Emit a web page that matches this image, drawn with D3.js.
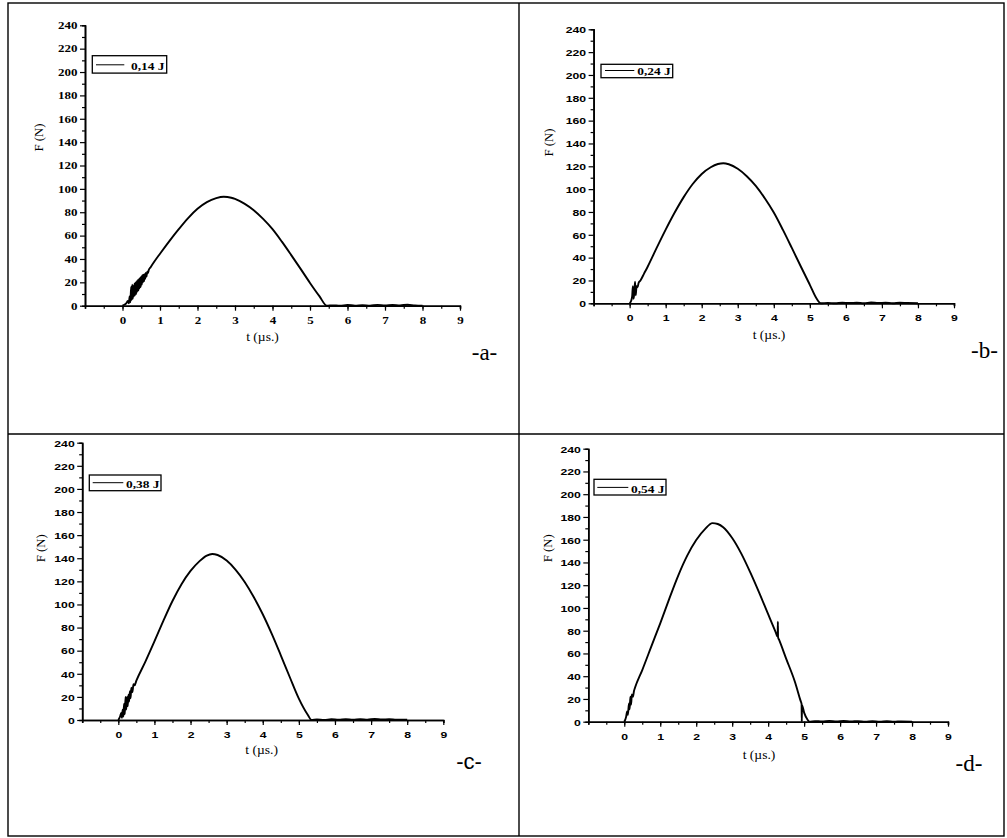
<!DOCTYPE html>
<html>
<head>
<meta charset="utf-8">
<script src="https://cdn.jsdelivr.net/npm/d3@7"></script>
<style>
  body { margin: 0; background: #fff; }
  svg { display: block; }
</style>
</head>
<body>
<svg id="fig" width="1007" height="838"></svg>
<script>
// ---- values -------------------------------------------------------------
const timeMajorTicks = [0, 1, 2, 3, 4, 5, 6, 7, 8, 9];
const timeMinorTicks = [-1, -0.5, 0, 0.5, 1, 1.5, 2, 2.5, 3, 3.5, 4, 4.5, 5, 5.5, 6, 6.5, 7, 7.5, 8, 8.5, 9];
const forceMajorTicks = [0, 20, 40, 60, 80, 100, 120, 140, 160, 180, 200, 220, 240];
const forceMinorTicks = [10, 30, 50, 70, 90, 110, 130, 150, 170, 190, 210, 230];
const timeDomain = [-1, 9];
const forceDomain = [0, 240];

const energyLabels = ["0,14 J", "0,24 J", "0,38 J", "0,54 J"];
const panelTags = ["-a-", "-b-", "-c-", "-d-"];
const timeTitle = "t (\u00b5s.)";
const forceTitle = "F (N)";

// impact force history, [t (µs), F (N)]
const force014 = [
  [0, 0], [0.06, 1], [0.1, 2], [0.14, 4], [0.17, 2], [0.19, 8], [0.21, 3], [0.23, 16],
  [0.245, 5], [0.26, 18], [0.275, 6], [0.29, 17], [0.305, 8], [0.32, 19], [0.335, 9],
  [0.35, 20], [0.365, 10], [0.38, 21], [0.395, 12], [0.41, 22], [0.425, 13], [0.44, 23],
  [0.455, 15], [0.47, 24], [0.485, 16], [0.5, 25], [0.515, 18], [0.53, 26], [0.545, 20],
  [0.56, 26.5], [0.575, 21], [0.59, 27], [0.605, 23], [0.62, 28], [0.64, 25], [0.66, 29],
  [0.68, 28], [0.7, 30.5], [0.75, 33], [0.85, 37.8], [1.0, 44.5], [1.25, 55.3], [1.5, 65.5],
  [1.75, 75], [2.0, 82.9], [2.25, 88.6], [2.5, 92], [2.7, 93.2], [2.9, 92.4], [3.0, 91.4],
  [3.25, 87.4], [3.5, 81.7], [3.75, 74.3], [4.0, 65.5], [4.25, 54.8], [4.5, 43.3], [4.75, 31.5],
  [5.0, 19.5], [5.25, 8.2], [5.45, 0], [5.6, 0.3], [5.8, 0], [6.0, 0.6], [6.2, 0.1], [6.4, 0.5],
  [6.6, 0], [6.8, 0.7], [7.0, 0.2], [7.2, 0.6], [7.4, 0.3], [7.6, 0.8], [7.8, 0.2], [8.0, 0]
];
const force024 = [
  [0, 0], [0.04, 2], [0.07, 6], [0.09, 15], [0.11, 4], [0.13, 10], [0.15, 19], [0.17, 7],
  [0.19, 15], [0.22, 14], [0.25, 18], [0.3, 20], [0.4, 26], [0.5, 32], [0.75, 48.5],
  [1.0, 64.5], [1.25, 79.5], [1.5, 93], [1.75, 104.5], [2.0, 113.3], [2.25, 119.2],
  [2.45, 122], [2.6, 122.7], [2.75, 121.8], [3.0, 117.8], [3.25, 111.3], [3.5, 102.8],
  [3.75, 92], [4.0, 79.5], [4.25, 64.5], [4.5, 48.5], [4.75, 32.2], [5.0, 16.2], [5.2, 3.5],
  [5.3, 0], [5.5, 0.4], [5.7, 0], [5.9, 0.6], [6.1, 0.2], [6.3, 0.5], [6.5, 0.1], [6.7, 0.7],
  [6.9, 0.2], [7.1, 0.6], [7.3, 0.1], [7.5, 0.5], [7.7, 0.2], [8.0, 0]
];
const force038 = [
  [0, 0], [0.05, 3], [0.08, 6], [0.1, 2], [0.12, 9], [0.14, 3], [0.16, 14], [0.18, 5],
  [0.2, 20], [0.22, 9], [0.24, 20], [0.26, 12], [0.28, 22], [0.3, 16], [0.32, 25],
  [0.34, 19], [0.36, 28], [0.39, 24], [0.42, 31], [0.45, 30], [0.5, 34], [0.75, 50.5],
  [1.0, 68], [1.25, 86], [1.5, 103], [1.75, 117.5], [2.0, 129], [2.25, 137.5], [2.45, 142.3],
  [2.6, 143.7], [2.75, 142.8], [3.0, 138], [3.25, 130], [3.5, 119.5], [3.75, 106.5], [4.0, 91.5],
  [4.25, 74.5], [4.5, 56], [4.75, 37], [5.0, 18.5], [5.25, 4.3], [5.35, 0], [5.5, 0.5],
  [5.7, 0.1], [5.9, 0.6], [6.1, 0.2], [6.3, 0.7], [6.5, 0.3], [6.7, 0.8], [6.9, 0.3],
  [7.1, 0.9], [7.3, 0.4], [7.5, 0.7], [7.7, 0.3], [8.0, 0.2]
];
const force054 = [
  [0, 0], [0.05, 4], [0.08, 9], [0.1, 6], [0.13, 16], [0.15, 11], [0.17, 22], [0.19, 15],
  [0.21, 24], [0.24, 22], [0.27, 27], [0.3, 30], [0.5, 45.4], [0.75, 66], [1.0, 86.5],
  [1.25, 108], [1.5, 128.5], [1.75, 146], [2.0, 159.7], [2.25, 169.5], [2.45, 174.6],
  [2.6, 173.8], [2.75, 171], [3.0, 161.5], [3.25, 148], [3.5, 131.5], [3.75, 113.5], [4.0, 94.5],
  [4.2, 79.5], [4.265, 74.8], [4.27, 88], [4.275, 74.2], [4.3, 72.3], [4.5, 55.5], [4.75, 34.5],
  [4.9, 18.5], [4.93, 15.5], [4.935, 0], [4.94, 14.5], [5.0, 8], [5.1, 1.5], [5.15, 0],
  [5.3, 0.5], [5.5, 0.2], [5.7, 0.7], [5.9, 0.3], [6.1, 0.6], [6.3, 0.2], [6.5, 0.5],
  [6.7, 0.1], [6.9, 0.4], [7.1, 0.1], [7.3, 0.4], [7.5, 0], [7.7, 0.3], [8.0, 0]
];

// ---- layout -------------------------------------------------------------
const SERIF = "'Liberation Serif','Times New Roman',serif";
const SANS = "'Liberation Sans',Arial,sans-serif";

const panels = [
  { data: force014, label: energyLabels[0], tag: panelTags[0],
    xr: [85, 460], yr: [305.7, 25.3], tickFont: SERIF, tickSize: 10, tagFont: SERIF, tagSize: 23,
    box: [92.3, 55.7, 74.4, 17.4], line: [96, 124.3, 64.8], text: [131, 70.4],
    yTitle: [42.5, 137.5], xTitle: [262.5, 341], tagPos: [484.5, 359.5] },
  { data: force024, label: energyLabels[1], tag: panelTags[1],
    xr: [593.6, 954], yr: [303.3, 29.3], tickFont: SANS, tickSize: 9.4, tagFont: SERIF, tagSize: 23,
    box: [601, 64.3, 71.7, 13.4], line: [605, 634.3, 70.5], text: [637.3, 75.4],
    yTitle: [552.5, 142.5], xTitle: [769, 339], tagPos: [984.5, 358] },
  { data: force038, label: energyLabels[2], tag: panelTags[2],
    xr: [82.2, 443.3], yr: [720, 442.7], tickFont: SANS, tickSize: 9.4, tagFont: SANS, tagSize: 22,
    box: [89.3, 475, 71.7, 15.7], line: [92.7, 123.3, 482.7], text: [126, 488.4],
    yTitle: [44.5, 548.3], xTitle: [261.7, 754], tagPos: [469, 769] },
  { data: force054, label: energyLabels[3], tag: panelTags[3],
    xr: [588.3, 948], yr: [721.7, 448.7], tickFont: SANS, tickSize: 9.4, tagFont: SERIF, tagSize: 23,
    box: [594, 479.3, 72, 15.7], line: [597.3, 628.3, 487.4], text: [631, 492.6],
    yTitle: [551.5, 548.3], xTitle: [759, 759], tagPos: [969, 771] }
];

const svg = d3.select("#fig");

// page frame with the 2x2 grid of cells
const frame = svg.append("g").attr("fill", "none").attr("stroke", "#000").attr("stroke-width", 1.4);
frame.append("rect").attr("x", 8).attr("y", 3).attr("width", 996).attr("height", 833);
frame.append("line").attr("x1", 519).attr("x2", 519).attr("y1", 3).attr("y2", 836);
frame.append("line").attr("x1", 8).attr("x2", 1004).attr("y1", 434).attr("y2", 434);

panels.forEach(p => {
  const x = d3.scaleLinear().domain(timeDomain).range(p.xr);
  const y = d3.scaleLinear().domain(forceDomain).range(p.yr);
  const g = svg.append("g");

  // minor ticks
  g.append("g").attr("transform", `translate(0,${p.yr[0]})`)
    .call(d3.axisBottom(x).tickValues(timeMinorTicks).tickSize(3).tickFormat(""));
  g.append("g").attr("transform", `translate(${p.xr[0]},0)`)
    .call(d3.axisLeft(y).tickValues(forceMinorTicks).tickSize(3).tickFormat(""));

  // major ticks with labels
  const xAx = g.append("g").attr("transform", `translate(0,${p.yr[0]})`)
    .call(d3.axisBottom(x).tickValues(timeMajorTicks).tickSize(5).tickSizeOuter(0).tickFormat(d3.format("d")));
  const yAx = g.append("g").attr("transform", `translate(${p.xr[0]},0)`)
    .call(d3.axisLeft(y).tickValues(forceMajorTicks).tickSize(5).tickSizeOuter(0).tickFormat(d3.format("d")));

  g.selectAll(".domain").attr("stroke-width", 1.6);
  g.selectAll(".tick line").attr("stroke-width", 1.2);

  xAx.selectAll(".tick text")
    .attr("x", null).attr("y", null).attr("dy", null)
    .attr("transform", "translate(0,17.8) scale(1.3,1)")
    .attr("font-family", p.tickFont).attr("font-weight", "bold").attr("font-size", p.tickSize);
  yAx.selectAll(".tick text")
    .attr("x", null).attr("y", null).attr("dy", null)
    .attr("transform", "translate(-7.5,3.3) scale(1.3,1)")
    .attr("font-family", p.tickFont).attr("font-weight", "bold").attr("font-size", p.tickSize);

  // force curve
  const line = d3.line()
    .x(d => x(d[0])).y(d => y(d[1]))
    .curve(d3.curveMonotoneX);
  g.append("path").datum(p.data)
    .attr("fill", "none").attr("stroke", "#000").attr("stroke-width", 1.9)
    .attr("stroke-linejoin", "round").attr("d", line);

  // axis titles
  g.append("text")
    .attr("transform", `translate(${p.xTitle[0]},${p.xTitle[1]}) scale(1.13,1)`)
    .attr("text-anchor", "middle").attr("font-family", SERIF).attr("font-size", 12)
    .text(timeTitle);
  g.append("text")
    .attr("transform", `translate(${p.yTitle[0]},${p.yTitle[1]}) rotate(-90)`)
    .attr("text-anchor", "middle").attr("font-family", SERIF).attr("font-size", 12.8)
    .text(forceTitle);

  // legend
  g.append("rect")
    .attr("x", p.box[0]).attr("y", p.box[1]).attr("width", p.box[2]).attr("height", p.box[3])
    .attr("fill", "#fff").attr("stroke", "#000").attr("stroke-width", 1.3);
  g.append("line")
    .attr("x1", p.line[0]).attr("x2", p.line[1]).attr("y1", p.line[2]).attr("y2", p.line[2])
    .attr("stroke", "#000").attr("stroke-width", 1);
  g.append("text")
    .attr("transform", `translate(${p.text[0]},${p.text[1]}) scale(1.22,1)`)
    .attr("font-family", SERIF).attr("font-weight", "bold").attr("font-size", 11)
    .text(p.label);

  // panel tag
  g.append("text")
    .attr("x", p.tagPos[0]).attr("y", p.tagPos[1])
    .attr("text-anchor", "middle").attr("font-family", p.tagFont).attr("font-size", p.tagSize)
    .text(p.tag);
});
</script>
</body>
</html>
